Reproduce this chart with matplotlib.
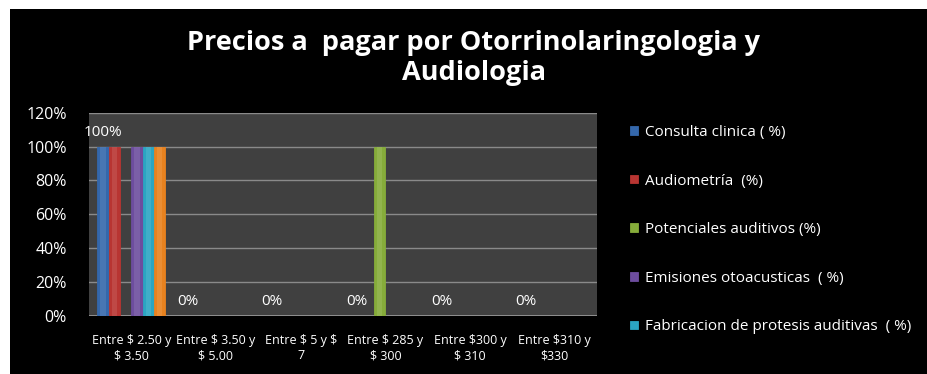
import numpy as np
import matplotlib
matplotlib.use("Agg")
import matplotlib.pyplot as plt
from matplotlib.patches import Rectangle
from matplotlib.ticker import FuncFormatter

# --- Datos ---
rangos = ["Entre $ 2.50 y\n$ 3.50", "Entre $ 3.50 y\n$ 5.00", "Entre $ 5 y $\n7",
          "Entre $ 285 y\n$ 300", "Entre $300 y\n$ 310", "Entre $310 y\n$330"]
consulta = [1.0, 0, 0, 0, 0, 0]
audiometria = [1.0, 0, 0, 0, 0, 0]
potenciales = [0, 0, 0, 1.0, 0, 0]
emisiones = [1.0, 0, 0, 0, 0, 0]
protesis = [1.0, 0, 0, 0, 0, 0]
otros = [1.0, 0, 0, 0, 0, 0]

series = [
    ("Consulta clinica ( %)", consulta, "#3467ab"),
    ("Audiometría  (%)", audiometria, "#b83532"),
    ("Potenciales auditivos (%)", potenciales, "#86ac3a"),
    ("Emisiones otoacusticas  ( %)", emisiones, "#6d4d9e"),
    ("Fabricacion de protesis auditivas  ( %)", protesis, "#2ba5c2"),
    (None, otros, "#e8821f"),
]

plt.rcParams['font.family'] = ['Open Sans', 'DejaVu Sans']
plt.rcParams['text.parse_math'] = False  # los "$" son texto, no fórmulas

fig = plt.figure(figsize=(9.28, 3.74), dpi=100, facecolor="white")
# fondo negro del gráfico (deja el borde blanco arriba y a la izquierda)
fondo = Rectangle((10 / 928, 0), 1, 1 - 9 / 374, transform=fig.transFigure,
                  facecolor="black", edgecolor="none", zorder=-10)
fig.add_artist(fondo)

ax = fig.add_axes([89 / 928, 1 - 316 / 374, (597 - 89) / 928, (316 - 112.7) / 374])
ax.set_zorder(1)
ax.set_facecolor("#404040")

n = len(series)
gap = 16.7 / 84.7
bw = (1 - gap) / n
x = np.arange(len(rangos))
handles = []
for i, (name, vals, color) in enumerate(series):
    pos = x - 0.5 + gap / 2 + bw * (i + 0.5)
    b = ax.bar(pos, vals, width=bw, color=color, edgecolor=color, linewidth=0.6, zorder=3)
    # brillo central de cada barra
    ax.bar(pos, vals, width=bw * 0.45, color="white", alpha=0.10, linewidth=0, zorder=4)
    if name:
        handles.append((b, name))
    if i == 0:
        for xi, v in zip(pos, vals):
            ax.text(xi, v + 0.04, f"{v:.0%}", color="white", fontsize=11,
                    ha="center", va="bottom", zorder=5)

ax.set_xlim(-0.5, len(rangos) - 0.5)
ax.set_ylim(0, 1.2)
ax.set_yticks(np.arange(0, 1.21, 0.2))
ax.yaxis.set_major_formatter(FuncFormatter(lambda v, p: f"{v:.0%}"))
ax.set_xticks(x)
ax.set_xticklabels(rangos, fontsize=9, linespacing=1.2)
ax.tick_params(axis="y", colors="white", labelsize=11.5, length=0, pad=16)
ax.tick_params(axis="x", colors="white", length=0, pad=13)
ax.grid(axis="y", color="#8a8a8a", linewidth=1, zorder=1)
for s in ax.spines.values():
    s.set_visible(False)
ax.axhline(0, color="#9a9a9a", linewidth=1.2, zorder=2)

fig.text(474 / 928, 1 - 58 / 374, "Precios a  pagar por Otorrinolaringologia y\nAudiologia",
         color="white", fontsize=19.5, fontweight="bold", ha="center", va="center",
         linespacing=1.15)

leg = ax.legend([h for h, _ in handles], [t for _, t in handles], loc="upper left",
                bbox_to_anchor=((624 - 89) / 508, 0.97), frameon=False,
                labelcolor="white", fontsize=11, handlelength=0.5, handleheight=0.5,
                handletextpad=0.5, labelspacing=2.2, borderaxespad=0)

fig.savefig("out.png", dpi=100, facecolor=fig.get_facecolor())
